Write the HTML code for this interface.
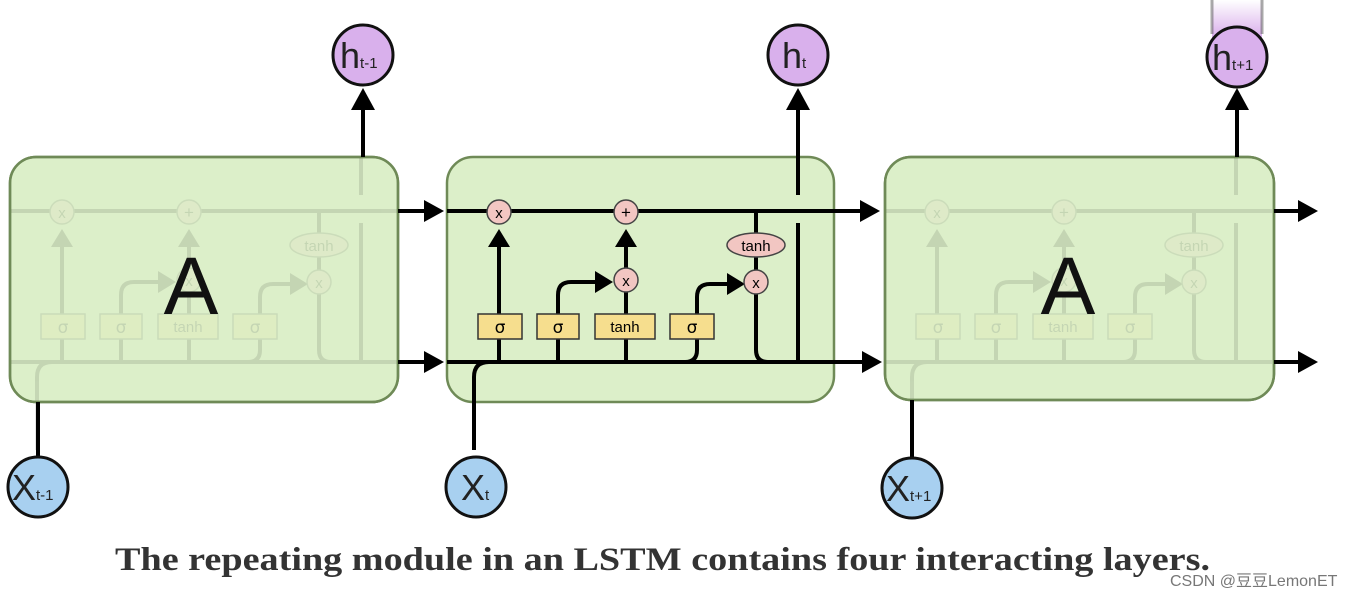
<!DOCTYPE html>
<html><head><meta charset="utf-8"><style>
html,body{margin:0;padding:0;background:#fff;}
svg{display:block;}
</style></head><body>
<svg width="1370" height="596" viewBox="0 0 1370 596" xmlns="http://www.w3.org/2000/svg">
<defs>
<linearGradient id="fade" x1="0" y1="0" x2="0" y2="1">
<stop offset="0" stop-color="#fff"/><stop offset="1" stop-color="#d6a8ea"/>
</linearGradient>
<g id="cell">
  <path d="M0 211 H387" stroke="#000" stroke-width="4" fill="none"/>
  <path d="M0 362 H387" stroke="#000" stroke-width="4" fill="none"/>
  <path d="M27 300 M27 450 V377 Q27 362 42 362" stroke="#000" stroke-width="4" fill="none"/>
  <path d="M52 362 V245" stroke="#000" stroke-width="4" fill="none"/>
  <polygon points="41,247 63,247 52,229" fill="#000"/>
  <path d="M111 362 V295 Q111 282 124 282 H150" stroke="#000" stroke-width="4" fill="none"/>
  <polygon points="148,271 148,293 166,282" fill="#000"/>
  <path d="M179 362 V245" stroke="#000" stroke-width="4" fill="none"/>
  <polygon points="168,247 190,247 179,229" fill="#000"/>
  <path d="M170 362 H238 Q250 362 250 350 V297 Q250 284 263 284 H282" stroke="#000" stroke-width="4" fill="none"/>
  <polygon points="280,273 280,295 298,284" fill="#000"/>
  <path d="M309 211 V282" stroke="#000" stroke-width="4" fill="none"/>
  <path d="M309 290 V350 Q309 362 321 362 H380" stroke="#000" stroke-width="4" fill="none"/>
  <rect x="31" y="314" width="44" height="25" fill="#f6de8e" stroke="#333" stroke-width="1.5"/>
  <rect x="90" y="314" width="42" height="25" fill="#f6de8e" stroke="#333" stroke-width="1.5"/>
  <rect x="148" y="314" width="60" height="25" fill="#f6de8e" stroke="#333" stroke-width="1.5"/>
  <rect x="223" y="314" width="44" height="25" fill="#f6de8e" stroke="#333" stroke-width="1.5"/>
  <text x="53" y="333" font-family="DejaVu Sans,sans-serif" font-size="17" text-anchor="middle">σ</text>
  <text x="111" y="333" font-family="DejaVu Sans,sans-serif" font-size="17" text-anchor="middle">σ</text>
  <text x="178" y="332" font-family="Liberation Sans,sans-serif" font-size="15" text-anchor="middle">tanh</text>
  <text x="245" y="333" font-family="DejaVu Sans,sans-serif" font-size="17" text-anchor="middle">σ</text>
  <circle cx="52" cy="212" r="12" fill="#f2c6c2" stroke="#444" stroke-width="1.5"/>
  <text x="52" y="218" font-family="Liberation Sans,sans-serif" font-size="15" text-anchor="middle">x</text>
  <circle cx="179" cy="212" r="12" fill="#f2c6c2" stroke="#444" stroke-width="1.5"/>
  <text x="179" y="218" font-family="Liberation Sans,sans-serif" font-size="17" text-anchor="middle">+</text>
  <circle cx="179" cy="280" r="12" fill="#f2c6c2" stroke="#444" stroke-width="1.5"/>
  <text x="179" y="286" font-family="Liberation Sans,sans-serif" font-size="15" text-anchor="middle">x</text>
  <circle cx="309" cy="282" r="12" fill="#f2c6c2" stroke="#444" stroke-width="1.5"/>
  <text x="309" y="288" font-family="Liberation Sans,sans-serif" font-size="15" text-anchor="middle">x</text>
  <ellipse cx="309" cy="245" rx="29" ry="12" fill="#f2c6c2" stroke="#444" stroke-width="1.5"/>
  <text x="309" y="251" font-family="Liberation Sans,sans-serif" font-size="15" text-anchor="middle">tanh</text>
  <path d="M351 157 V195 M351 223 V362" stroke="#000" stroke-width="4" fill="none"/>
</g>
</defs>

<!-- Box 1 -->
<rect x="10" y="157" width="388" height="245" rx="26" fill="#dcefc9" stroke="#6f8a57" stroke-width="2.5"/>
<g opacity="0.1" transform="translate(10,0)"><use href="#cell"/></g>
<rect x="10" y="157" width="388" height="245" rx="26" fill="none" stroke="#6f8a57" stroke-width="2.5"/>
<text x="191" y="314" font-family="Liberation Sans,sans-serif" font-size="82" text-anchor="middle" fill="#111">A</text>

<!-- Box 2 -->
<rect x="447" y="157" width="387" height="245" rx="26" fill="#dcefc9" stroke="#6f8a57" stroke-width="2.5"/>
<g transform="translate(447,0)"><use href="#cell"/></g>

<!-- Box 3 -->
<rect x="885" y="157" width="389" height="243" rx="26" fill="#dcefc9" stroke="#6f8a57" stroke-width="2.5"/>
<g opacity="0.1" transform="translate(885,0)"><use href="#cell"/></g>
<rect x="885" y="157" width="389" height="243" rx="26" fill="none" stroke="#6f8a57" stroke-width="2.5"/>
<text x="1068" y="314" font-family="Liberation Sans,sans-serif" font-size="82" text-anchor="middle" fill="#111">A</text>

<!-- inter-box arrows -->
<g stroke="#000" stroke-width="4">
<line x1="398" y1="211" x2="428" y2="211"/><line x1="398" y1="362" x2="428" y2="362"/>
<line x1="834" y1="211" x2="864" y2="211"/><line x1="834" y1="362" x2="866" y2="362"/>
<line x1="1274" y1="211" x2="1302" y2="211"/><line x1="1274" y1="362" x2="1302" y2="362"/>
</g>
<g fill="#000">
<polygon points="424,200 424,222 444,211"/><polygon points="424,351 424,373 444,362"/>
<polygon points="860,200 860,222 880,211"/><polygon points="862,351 862,373 882,362"/>
<polygon points="1298,200 1298,222 1318,211"/><polygon points="1298,351 1298,373 1318,362"/>
</g>

<g stroke="#000" stroke-width="4">
<line x1="363" y1="157" x2="363" y2="105"/>
<line x1="798" y1="195" x2="798" y2="105"/>
<line x1="1237" y1="157" x2="1237" y2="105"/>
<line x1="38" y1="402" x2="38" y2="457"/>
<line x1="912" y1="400" x2="912" y2="457"/>
</g>
<g fill="#000">
<polygon points="351,110 375,110 363,88"/>
<polygon points="786,110 810,110 798,88"/>
<polygon points="1225,110 1249,110 1237,88"/>
</g>
<rect x="1212" y="0" width="50" height="40" fill="url(#fade)"/>
<line x1="1212" y1="0" x2="1212" y2="34" stroke="#555" stroke-width="3" opacity="0.5"/>
<line x1="1262" y1="0" x2="1262" y2="34" stroke="#555" stroke-width="3" opacity="0.5"/>
<g stroke="#111" stroke-width="3">
<circle cx="363" cy="55" r="30" fill="#d9b0ec"/>
<circle cx="798" cy="55" r="30" fill="#d9b0ec"/>
<circle cx="1237" cy="57" r="30" fill="#d9b0ec"/>
<circle cx="38" cy="487" r="30" fill="#a8d0f0"/>
<circle cx="476" cy="487" r="30" fill="#a8d0f0"/>
<circle cx="912" cy="488" r="30" fill="#a8d0f0"/>
</g>
<g font-family="Liberation Sans,sans-serif" fill="#222">
<text x="340" y="68" font-size="36">h<tspan font-size="15">t-1</tspan></text>
<text x="782" y="68" font-size="36">h<tspan font-size="15">t</tspan></text>
<text x="1212" y="70" font-size="36">h<tspan font-size="15">t+1</tspan></text>
<text x="12" y="500" font-size="36">X<tspan font-size="15">t-1</tspan></text>
<text x="461" y="500" font-size="36">X<tspan font-size="15">t</tspan></text>
<text x="886" y="501" font-size="36">X<tspan font-size="15">t+1</tspan></text>
</g>

<text x="115" y="570" font-family="Liberation Serif,serif" font-size="33" font-weight="bold" fill="#333" textLength="1095" lengthAdjust="spacingAndGlyphs">The repeating module in an LSTM contains four interacting layers.</text>
<text x="1170" y="586" font-family="Liberation Sans,'Noto Sans CJK SC',sans-serif" font-size="16" fill="#777">CSDN @豆豆LemonET</text>
</svg>
</body></html>
